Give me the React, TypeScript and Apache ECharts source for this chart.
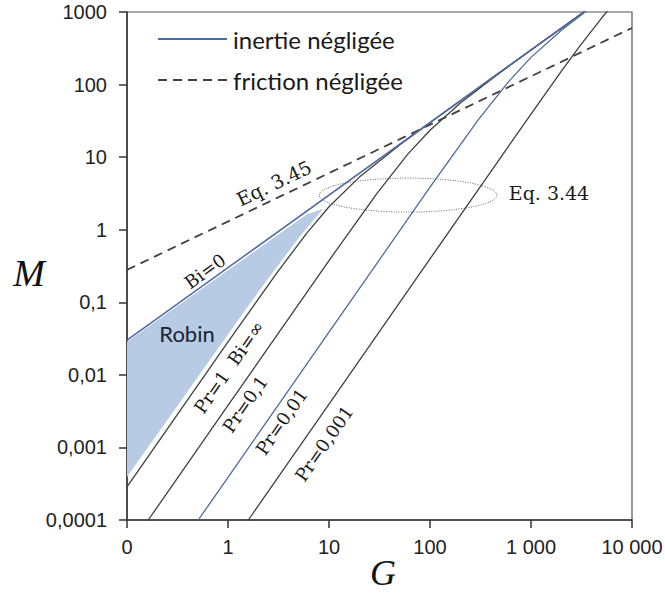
import { useEffect, useRef } from "react";
import * as echarts from "echarts";

// Tick labels (decades)
const xTickLabels = ["0", "1", "10", "100", "1 000", "10 000"];
const yTickLabels = ["0,0001", "0,001", "0,01", "0,1", "1", "10", "100", "1000"];

// Bi = 0 (inertie négligée)
const bi0G = [0.1, 3333];
const bi0M = [0.03, 1000];

// Eq. 3.45 (friction négligée)
const frictionG = [0.1, 10000];
const frictionM = [0.28, 603];

// Pr = 1, Bi = ∞
const pr1G = [0.1, 1, 3, 6, 10, 20, 50, 100, 300, 1000, 3333];
const pr1M = [0.000285, 0.0284, 0.247, 0.891, 2.07, 5.31, 14.7, 29.8, 89.9, 300, 1000];

// Pr = 0,1
const pr01G = [0.1625, 1, 10, 30, 60, 100, 200, 500, 1000, 3400];
const pr01M = [0.0001, 0.00379, 0.376, 3.19, 10.9, 23.5, 55.8, 148, 299, 1019];

// Pr = 0,01
const pr001G = [0.508, 1, 10, 100, 300, 600, 1000, 2000, 4000];
const pr001M = [0.0001, 0.000388, 0.0388, 3.85, 32.6, 110, 237, 560, 1178];

// Pr = 0,001
const pr0001G = [1.589, 10, 100, 500, 1000, 2000, 3000, 5000, 6000];
const pr0001M = [0.0001, 0.00396, 0.396, 9.88, 39.3, 153, 331, 826, 1118];

// Robin region (polygon vertices)
const robinG = [0.1, 6, 8.8, 5, 2, 0.5, 0.1];
const robinM = [0.0285, 1.62, 1.96, 0.77, 0.14, 0.00927, 0.00039];

// Eq. 3.44 ellipse box [G1, M1, G2, M2]
const ellipseBox = [8, 1.75, 460, 5.14];

// Annotations
const annText = ["Eq. 3.45", "Eq. 3.44", "Bi=0", "Robin", "Pr=1  Bi=∞", "Pr=0,1", "Pr=0,01", "Pr=0,001"];
const annG = [2.85, 1507, 0.592, 0.393, 1.023, 1.472, 3.385, 8.92];
const annM = [4.39, 3.19, 0.269, 0.0377, 0.0128, 0.00396, 0.002275, 0.001132];
const annAngle = [25.6, 0, 35.7, 0, 55.2, 55.2, 55.2, 55.2];

const BLUE = "#4f6aa0";
const DARK = "#404040";
const SERIF = "'DejaVu Serif', serif";
const SANS = "Lato, 'Open Sans', sans-serif";
const AXISFONT = "'Liberation Sans', Arial, sans-serif";
const TITLEFONT = "'Liberation Serif', serif";

const ICON_SOLID = "path://M0,0H69V2H0Z";
const ICON_DASHED = "path://M0,0H9V2H0Z M15,0H24V2H15Z M30,0H39V2H30Z M45,0H54V2H45Z M60,0H69V2H60Z";

const pairs = (g: number[], m: number[]) => g.map((v, i) => [v, m[i]]);

function lineSeries(name: string, g: number[], m: number[], color: string, width: number, type: any = "solid") {
  return {
    type: "line",
    name,
    data: pairs(g, m),
    symbol: "none",
    smooth: false,
    clip: true,
    silent: true,
    z: 3,
    lineStyle: { color, width, type },
    itemStyle: { color },
  };
}

export default function App() {
  const ref = useRef<HTMLDivElement>(null);
  useEffect(() => {
    const chart = echarts.init(ref.current!, null, { renderer: "svg" });
    const option: any = {
      animation: false,
      backgroundColor: "#ffffff",
      grid: {
        left: 127,
        top: 12,
        right: 33,
        bottom: 74,
        containLabel: false,
        outerBoundsMode: "none",
        show: true,
        borderColor: "#555",
        borderWidth: 1.2,
      },
      legend: {
        data: [
          { name: "inertie négligée", icon: ICON_SOLID, itemStyle: { color: BLUE } },
          { name: "friction négligée", icon: ICON_DASHED, itemStyle: { color: DARK } },
        ],
        orient: "vertical",
        left: 153,
        top: 20,
        itemWidth: 69,
        itemHeight: 2,
        itemGap: 13,
        selectedMode: false,
        textStyle: { fontFamily: SANS, fontSize: 24, color: "#1a1a1a", lineHeight: 28, padding: [0, 0, 0, 1] },
      },
      graphic: [
        {
          type: "text",
          x: 29,
          y: 273,
          silent: true,
          style: { text: "M", fontFamily: TITLEFONT, fontStyle: "italic", fontSize: 38, fill: "#111", align: "center", verticalAlign: "middle" },
        },
        {
          type: "text",
          x: 383,
          y: 573,
          silent: true,
          style: { text: "G", fontFamily: TITLEFONT, fontStyle: "italic", fontSize: 36, fill: "#111", align: "center", verticalAlign: "middle" },
        },
      ],
      xAxis: {
        type: "log",
        logBase: 10,
        min: 0.1,
        max: 10000,
        interval: 1,
        axisLine: { show: true, lineStyle: { color: "#333", width: 1.5 } },
        axisTick: { show: true, inside: false, length: 8, lineStyle: { color: "#333", width: 1.5 } },
        splitLine: { show: false },
        minorTick: { show: false },
        axisLabel: {
          margin: 17,
          hideOverlap: false,
          fontFamily: AXISFONT,
          fontSize: 20,
          color: "#222",
          formatter: (v: number) => xTickLabels[Math.round(Math.log10(v)) + 1] ?? "",
        },
      },
      yAxis: {
        type: "log",
        logBase: 10,
        min: 0.0001,
        max: 1000,
        interval: 1,
        axisLine: { show: true, lineStyle: { color: "#333", width: 1.5 } },
        axisTick: { show: true, inside: false, length: 8, lineStyle: { color: "#333", width: 1.5 } },
        splitLine: { show: false },
        minorTick: { show: false },
        axisLabel: {
          margin: 20,
          hideOverlap: false,
          fontFamily: AXISFONT,
          fontSize: 20,
          color: "#222",
          formatter: (v: number) => yTickLabels[Math.round(Math.log10(v)) + 4] ?? "",
        },
      },
      series: [
        {
          type: "custom",
          name: "Robin",
          silent: true,
          z: 1,
          clip: true,
          data: [[robinG[0], robinM[0]]],
          renderItem: (params: any, api: any) => {
            const pts = robinG.map((g, i) => api.coord([g, robinM[i]]));
            return { type: "polygon", shape: { points: pts }, style: { fill: "#b7cbe4", stroke: "none" } };
          },
        },
        {
          type: "custom",
          name: "Eq. 3.44 zone",
          silent: true,
          z: 2,
          clip: false,
          data: [ellipseBox],
          renderItem: (params: any, api: any) => {
            const a = api.coord([api.value(0), api.value(1)]);
            const b = api.coord([api.value(2), api.value(3)]);
            return {
              type: "ellipse",
              shape: { cx: (a[0] + b[0]) / 2, cy: (a[1] + b[1]) / 2, rx: Math.abs(b[0] - a[0]) / 2, ry: Math.abs(b[1] - a[1]) / 2 },
              style: { fill: "none", stroke: "#666", lineWidth: 1, lineDash: [1, 1.5] },
            };
          },
        },
        lineSeries("friction négligée", frictionG, frictionM, DARK, 1.8, [9, 6]),
        lineSeries("Pr=1", pr1G, pr1M, DARK, 1.3),
        lineSeries("Pr=0,1", pr01G, pr01M, DARK, 1.3),
        lineSeries("Pr=0,01", pr001G, pr001M, BLUE, 1.3),
        lineSeries("Pr=0,001", pr0001G, pr0001M, DARK, 1.3),
        lineSeries("inertie négligée", bi0G, bi0M, BLUE, 1.5),
        {
          type: "custom",
          name: "annotations",
          silent: true,
          z: 5,
          clip: false,
          data: pairs(annG, annM),
          renderItem: (params: any, api: any) => {
            const i = params.dataIndex;
            const p = api.coord([api.value(0), api.value(1)]);
            const isRobin = annText[i] === "Robin";
            const isEq = annText[i].startsWith("Eq");
            return {
              type: "text",
              x: p[0],
              y: p[1],
              rotation: (annAngle[i] * Math.PI) / 180,
              style: {
                text: annText[i],
                fontFamily: isRobin ? SANS : SERIF,
                fontSize: isRobin ? 22 : isEq ? 19 : 18,
                fill: isRobin ? "#1c2333" : "#1a1a1a",
                align: "center",
                verticalAlign: "middle",
              },
            };
          },
        },
      ],
    };
    chart.setOption(option);
    return () => chart.dispose();
  }, []);
  return (
    <div
      ref={ref}
      style={{ position: "fixed", left: 0, top: 0, width: 665, height: 594, background: "#fff" }}
    />
  );
}
